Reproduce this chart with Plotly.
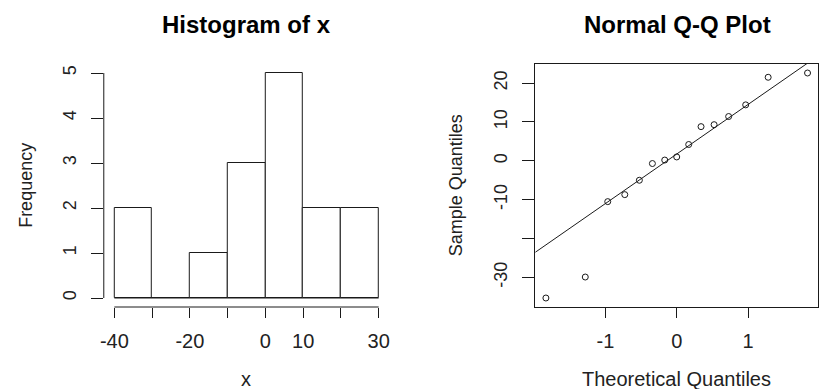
import numpy as np
import plotly.graph_objects as go

# Histogram of x: class breaks and counts per class (right-closed bins)
breaks = [-40, -30, -20, -10, 0, 10, 20, 30]
counts = [2, 0, 1, 3, 5, 2, 2]
hist_tick_labels = ["-40", "", "-20", "", "0", "10", "", "30"]
freq_ticks = [0, 1, 2, 3, 4, 5]

# Normal Q-Q plot: theoretical normal quantiles and the sorted sample
theoretical = [-1.834, -1.282, -0.967, -0.728, -0.524, -0.341, -0.168, 0.0,
               0.168, 0.341, 0.524, 0.728, 0.967, 1.282, 1.834]
sample = [-35.3, -29.9, -10.5, -8.7, -5.0, -0.7, 0.2, 1.0,
          4.2, 8.8, 9.3, 11.4, 14.4, 21.5, 22.6]
qq_x_ticks = [-1, 0, 1]
qq_y_ticks = [-30, -20, -10, 0, 10, 20]
qq_y_labels = ["-30", "", "-10", "0", "10", "20"]
Z_QUARTILE = 0.6745  # standard normal 75% quantile

W, H = 819, 389
FONT = "Liberation Sans, Arial, sans-serif"
INK = "#1a1a1a"


def px_x(p):
    return p / W


def px_y(p):
    return 1 - p / H


def padded(lo, hi, frac=0.04):
    d = (hi - lo) * frac
    return [lo - d, hi + d]


# plot regions (pixels)
hist_dom_x = [px_x(100.4), px_x(387.6)]
qq_dom_x = [px_x(534.7), 1.0]
dom_y = [px_y(307), px_y(64)]

centers = [(a + b) / 2 for a, b in zip(breaks[:-1], breaks[1:])]
widths = [b - a for a, b in zip(breaks[:-1], breaks[1:])]

fig = go.Figure()

fig.add_trace(go.Bar(
    x=centers, y=counts, width=widths,
    marker=dict(color="white", line=dict(color=INK, width=1)),
    xaxis="x", yaxis="y", showlegend=False, hoverinfo="skip",
))

# reference line through the first and third quartiles
q1, q3 = np.quantile(sample, [0.25, 0.75])
slope = (q3 - q1) / (2 * Z_QUARTILE)
intercept = (q1 + q3) / 2
line_x = np.array([-3.0, 3.0])
fig.add_trace(go.Scatter(
    x=line_x, y=intercept + slope * line_x, mode="lines",
    line=dict(color=INK, width=1),
    xaxis="x2", yaxis="y2", showlegend=False, hoverinfo="skip",
))
fig.add_trace(go.Scatter(
    x=theoretical, y=sample, mode="markers",
    marker=dict(symbol="circle-open", size=6, color=INK,
                line=dict(color=INK, width=1)),
    xaxis="x2", yaxis="y2", showlegend=False,
))

xtick_font = dict(family=FONT, size=20, color="#222")
ytick_font = dict(family=FONT, size=18, color="#222")

fig.update_layout(
    width=W, height=H,
    margin=dict(l=0, r=0, t=0, b=0),
    paper_bgcolor="white", plot_bgcolor="white",
    bargap=0,
    xaxis=dict(
        domain=hist_dom_x, anchor="y",
        range=padded(breaks[0], breaks[-1]),
        tickmode="array", tickvals=breaks, ticktext=hist_tick_labels,
        ticks="outside", ticklen=10, tickwidth=1, tickcolor=INK,
        ticklabelstandoff=6,
        showline=False, showgrid=False, zeroline=False,
        tickfont=xtick_font,
    ),
    yaxis=dict(
        domain=dom_y, anchor="x",
        range=padded(0, max(counts)),
        tickmode="array", tickvals=freq_ticks,
        ticktext=[str(v) for v in freq_ticks],
        ticks="outside", ticklen=12, tickwidth=1, tickcolor=INK,
        tickangle=-90, ticklabelstandoff=8,
        showline=False, showgrid=False, zeroline=False,
        tickfont=ytick_font,
    ),
    xaxis2=dict(
        domain=qq_dom_x, anchor="y2",
        range=padded(min(theoretical), max(theoretical)),
        tickmode="array", tickvals=qq_x_ticks,
        ticktext=[str(v) for v in qq_x_ticks],
        ticks="outside", ticklen=10, tickwidth=1, tickcolor=INK,
        ticklabelstandoff=6,
        showline=True, mirror=True, linecolor=INK, linewidth=1,
        showgrid=False, zeroline=False,
        tickfont=xtick_font,
    ),
    yaxis2=dict(
        domain=dom_y, anchor="x2",
        range=padded(min(sample), max(sample)),
        tickmode="array", tickvals=qq_y_ticks, ticktext=qq_y_labels,
        ticks="outside", ticklen=12, tickwidth=1, tickcolor=INK,
        tickangle=-90, ticklabelstandoff=8,
        showline=True, mirror=True, linecolor=INK, linewidth=1,
        showgrid=False, zeroline=False,
        tickfont=ytick_font,
    ),
)

# histogram axes: lines span only the tick range
fig.add_shape(type="line", xref="x", yref="paper",
              x0=breaks[0], x1=breaks[-1], y0=dom_y[0], y1=dom_y[0],
              line=dict(color=INK, width=1))
fig.add_shape(type="line", xref="paper", yref="y",
              x0=hist_dom_x[0], x1=hist_dom_x[0],
              y0=freq_ticks[0], y1=freq_ticks[-1],
              line=dict(color=INK, width=1))
# baseline under the bars (empty classes included)
fig.add_shape(type="line", xref="x", yref="y",
              x0=breaks[0], x1=breaks[-1], y0=0, y1=0,
              line=dict(color=INK, width=1))

title_font = dict(family=FONT, size=24, color="black")
label_font_h = dict(family=FONT, size=20, color="#222")
label_font_v = dict(family=FONT, size=18, color="#222")


def note(text, x, y, font, angle=0):
    fig.add_annotation(text=text, x=px_x(x), y=px_y(y), xref="paper",
                       yref="paper", showarrow=False, textangle=angle,
                       xanchor="center", yanchor="middle", font=font)


note("<b>Histogram of x</b>", 243.5, 25, title_font)
note("<b>Normal Q-Q Plot</b>", 677.5, 25, title_font)
note("x", 243.5, 379, label_font_h)
note("Theoretical Quantiles", 677, 379, label_font_h)
note("Frequency", 22, 185, label_font_v, angle=-90)
note("Sample Quantiles", 455, 185, label_font_v, angle=-90)

fig.write_html("out.html")
